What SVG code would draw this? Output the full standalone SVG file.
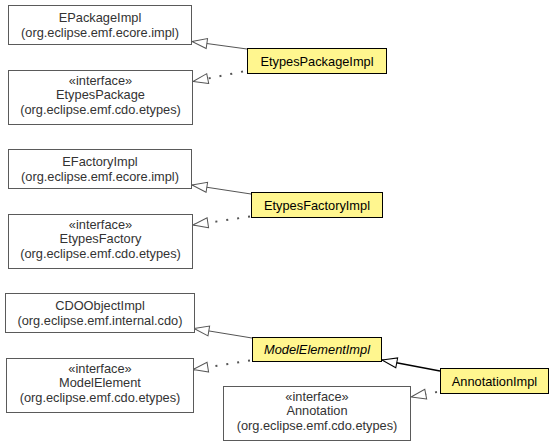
<svg xmlns="http://www.w3.org/2000/svg" width="555" height="445" viewBox="0 0 555 445">
<style>
  text { font-family: "Liberation Sans", Arial, sans-serif; font-size: 12.8px; text-anchor: middle; }
  .ext rect { fill: #ffffff; stroke: #5a5a5a; stroke-width: 1; }
  .ext text { fill: #333333; }
  .cls rect { fill: #fff68f; stroke: #000000; stroke-width: 1; }
  .cls text { fill: #000000; }
  .abs text { font-style: italic; }
  .gen { fill: none; stroke: #555555; stroke-width: 1; }
  .gen2 { fill: none; stroke: #000000; stroke-width: 1.4; }
  .impl { fill: none; stroke: #555555; stroke-width: 2; stroke-dasharray: 2 9; }
</style>
<defs>
  <marker id="tri" viewBox="-1 -1 17 12" markerWidth="17" markerHeight="12" refX="15" refY="5" orient="auto" markerUnits="userSpaceOnUse">
    <path d="M0,0 L15,5 L0,10 z" fill="#ffffff" stroke="#555555" stroke-width="1" stroke-dasharray="none"/>
  </marker>
  <marker id="triB" viewBox="-1 -1 17 12" markerWidth="17" markerHeight="12" refX="15" refY="5" orient="auto" markerUnits="userSpaceOnUse">
    <path d="M0,0 L15,5 L0,10 z" fill="#ffffff" stroke="#000000" stroke-width="1" stroke-dasharray="none"/>
  </marker>
</defs>

<g id="connectors">
  <line class="gen" x1="247" y1="49" x2="192" y2="41.5" marker-end="url(#tri)"/>
  <line class="impl" x1="243" y1="71.5" x2="193" y2="81.5" marker-end="url(#tri)"/>
  <line class="gen" x1="251" y1="194" x2="192" y2="185" marker-end="url(#tri)"/>
  <line class="impl" x1="250" y1="216.5" x2="193" y2="225" marker-end="url(#tri)"/>
  <line class="gen" x1="252" y1="338" x2="194" y2="328.5" marker-end="url(#tri)"/>
  <line class="impl" x1="250" y1="360.5" x2="193" y2="369.5" marker-end="url(#tri)"/>
  <line class="gen2" x1="440" y1="371" x2="382" y2="360" marker-end="url(#triB)"/>
  <line class="impl" x1="437" y1="392" x2="411" y2="397" marker-end="url(#tri)"/>
</g>

<g id="EPackageImpl" class="ext">
  <rect x="8.5" y="5.5" width="183" height="39"/>
  <text x="100" y="22">EPackageImpl</text>
  <text x="100" y="36.5">(org.eclipse.emf.ecore.impl)</text>
</g>
<g id="EtypesPackage" class="ext">
  <rect x="8.5" y="70.5" width="184" height="54"/>
  <text x="100.5" y="84.5">«interface»</text>
  <text x="100.5" y="99">EtypesPackage</text>
  <text x="100.5" y="113.5">(org.eclipse.emf.cdo.etypes)</text>
</g>
<g id="EtypesPackageImpl" class="cls">
  <rect x="247.5" y="48.5" width="139" height="25"/>
  <text x="317" y="65.5">EtypesPackageImpl</text>
</g>

<g id="EFactoryImpl" class="ext">
  <rect x="8.5" y="149.5" width="183" height="39"/>
  <text x="100" y="166">EFactoryImpl</text>
  <text x="100" y="180.5">(org.eclipse.emf.ecore.impl)</text>
</g>
<g id="EtypesFactory" class="ext">
  <rect x="8.5" y="214.5" width="184" height="54"/>
  <text x="100.5" y="228.5">«interface»</text>
  <text x="100.5" y="243">EtypesFactory</text>
  <text x="100.5" y="257.5">(org.eclipse.emf.cdo.etypes)</text>
</g>
<g id="EtypesFactoryImpl" class="cls">
  <rect x="251.5" y="192.5" width="131" height="25"/>
  <text x="317" y="209.5">EtypesFactoryImpl</text>
</g>

<g id="CDOObjectImpl" class="ext">
  <rect x="5.5" y="293.5" width="189" height="39"/>
  <text x="100" y="310">CDOObjectImpl</text>
  <text x="100" y="324.5">(org.eclipse.emf.internal.cdo)</text>
</g>
<g id="ModelElement" class="ext">
  <rect x="6.5" y="358.5" width="187" height="54"/>
  <text x="100" y="372.5">«interface»</text>
  <text x="100" y="387">ModelElement</text>
  <text x="100" y="401.5">(org.eclipse.emf.cdo.etypes)</text>
</g>
<g id="ModelElementImpl" class="cls abs">
  <rect x="252.5" y="337.5" width="129" height="24"/>
  <text x="317" y="354">ModelElementImpl</text>
</g>
<g id="AnnotationImpl" class="cls">
  <rect x="440.5" y="368.5" width="108" height="25"/>
  <text x="494.5" y="385.5">AnnotationImpl</text>
</g>
<g id="Annotation" class="ext">
  <rect x="223.5" y="386.5" width="187" height="54"/>
  <text x="317" y="400.5">«interface»</text>
  <text x="317" y="415">Annotation</text>
  <text x="317" y="429.5">(org.eclipse.emf.cdo.etypes)</text>
</g>
</svg>
